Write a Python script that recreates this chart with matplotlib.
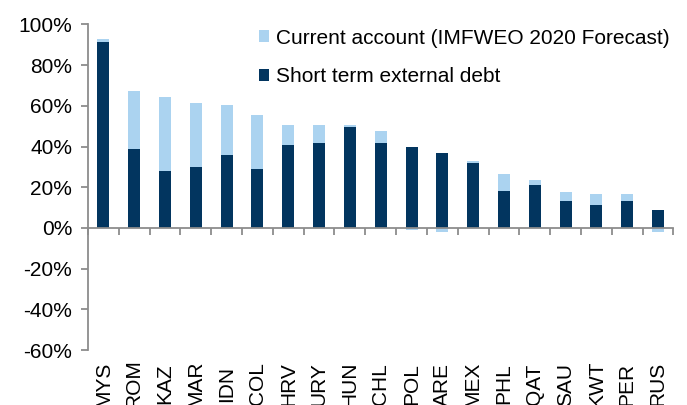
import matplotlib
matplotlib.use("Agg")
import matplotlib.pyplot as plt
import matplotlib.transforms as mtransforms
import numpy as np

plt.rcParams['font.family'] = ['Liberation Sans', 'DejaVu Sans']

categories = ["MYS", "ROM", "KAZ", "MAR", "IDN", "COL", "HRV", "URY", "HUN", "CHL",
              "POL", "ARE", "MEX", "PHL", "QAT", "SAU", "KWT", "PER", "RUS"]
short_term_debt = [91.6, 38.8, 28.0, 30.1, 35.9, 29.0, 40.8, 41.8, 49.8, 41.8,
                   40.0, 37.0, 32.1, 18.3, 21.3, 13.4, 11.5, 13.4, 8.7]
current_account = [1.2, 28.7, 36.4, 31.4, 24.6, 26.6, 9.8, 8.8, 0.8, 5.9,
                   -1.0, -2.0, 1.0, 8.2, 2.1, 4.1, 5.1, 3.2, -2.0]
ytick_values = [-60, -40, -20, 0, 20, 40, 60, 80, 100]

dark = "#02355F"
light = "#ABD3F0"
axis_gray = "#8C8C8C"
fs = 15

fig = plt.figure(figsize=(6.87, 4.05), dpi=100)
ax = fig.add_axes([88/687, 1-350/405, (673.4-88)/687, (350-24.5)/405])

x = np.arange(len(categories))
debt = np.array(short_term_debt)
ca = np.array(current_account)
ca_bottom = np.where(ca > 0, debt, 0)
w = 0.39
ax.bar(x, debt, width=w, color=dark, label="Short term external debt", zorder=2)
ax.bar(x, ca, width=w, bottom=ca_bottom, color=light,
       label="Current account (IMFWEO 2020 Forecast)", zorder=1)

ax.set_xlim(-0.5, len(categories) - 0.5)
ax.set_ylim(-60, 100)
ax.set_yticks(ytick_values)
ax.set_yticklabels([f"{v}%" for v in ytick_values])

for s in ["top", "right"]:
    ax.spines[s].set_visible(False)
ax.spines["left"].set_color(axis_gray)
ax.spines["left"].set_linewidth(1.3)
ax.spines["bottom"].set_position(("data", 0))
ax.spines["bottom"].set_color(axis_gray)
ax.spines["bottom"].set_linewidth(1.3)

ax.set_xticks(np.arange(-0.5, len(categories), 1.0))
ax.set_xticklabels([])
ax.tick_params(axis="x", direction="out", length=5, width=1.3, color=axis_gray)
ax.tick_params(axis="y", direction="out", length=5, width=1.3, color=axis_gray,
               labelsize=fs, pad=6.5)

trans = mtransforms.blended_transform_factory(ax.transData, fig.transFigure)
for xi, lab in zip(x, categories):
    ax.text(xi, 1-384/405, lab, rotation=90, ha="center", va="center",
            fontsize=fs, transform=trans, clip_on=False)

handles, labels = ax.get_legend_handles_labels()
leg = ax.legend(handles[::-1], labels[::-1], loc="upper right", frameon=False,
                fontsize=fs, handlelength=0.48, handleheight=0.48, handletextpad=0.3,
                labelspacing=0.95, borderaxespad=0.0, bbox_to_anchor=(1.007, 1.013))

fig.savefig("out.png", dpi=100)
